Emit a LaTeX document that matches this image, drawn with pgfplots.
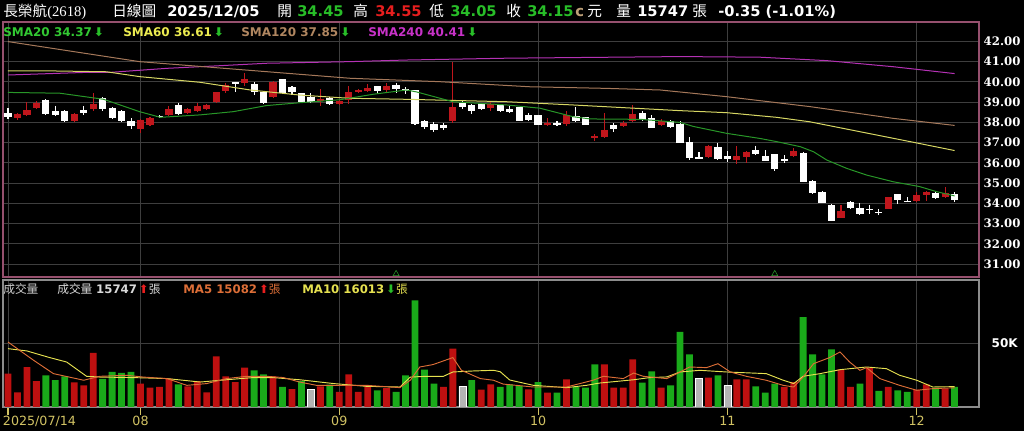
\documentclass[border=0pt]{standalone}
\usepackage{pgfplots}
\pgfplotsset{compat=1.18}
\usepackage{pgfplotstable}
\usepackage{fontspec}
\setmainfont{DejaVu Sans}
\newfontfamily\cjk{Noto Sans CJK TC}
\newfontfamily\dvserif{DejaVu Serif}
\newfontfamily\lserif{Liberation Serif}

\definecolor{gridc}{RGB}{62,62,62}
\definecolor{pricebd}{RGB}{150,80,110}
\definecolor{volbd}{RGB}{140,140,140}
\definecolor{cred}{RGB}{192,22,28}
\definecolor{vred}{RGB}{190,16,16}
\definecolor{vgreen}{RGB}{26,170,26}
\definecolor{vgray}{RGB}{180,180,180}
\definecolor{sma20}{RGB}{40,150,40}
\definecolor{sma60}{RGB}{215,215,100}
\definecolor{sma120}{RGB}{165,120,90}
\definecolor{sma240}{RGB}{180,50,180}
\definecolor{t20}{RGB}{50,200,50}
\definecolor{t60}{RGB}{235,235,80}
\definecolor{t120}{RGB}{176,134,96}
\definecolor{t240}{RGB}{200,50,200}
\definecolor{ma5}{RGB}{220,110,55}
\definecolor{ma10}{RGB}{230,225,80}
\definecolor{tickc}{RGB}{210,195,100}
\definecolor{upred}{RGB}{230,30,30}
\definecolor{dngreen}{RGB}{40,190,40}
\definecolor{tanc}{RGB}{190,160,120}

% daily candles: index, open, high, low, close
\pgfplotstableread{
i o h l c
0 38.45 38.70 38.15 38.25
1 38.20 38.45 38.10 38.40
2 38.35 39.00 38.30 38.60
3 38.70 39.05 38.65 38.95
4 39.10 39.15 38.35 38.40
5 38.55 38.80 38.30 38.35
6 38.55 38.60 38.00 38.05
7 38.05 38.45 38.00 38.40
8 38.60 38.80 38.35 38.45
9 38.65 39.45 38.55 38.90
10 39.20 39.25 38.55 38.65
11 38.70 38.75 38.15 38.20
12 38.55 38.60 38.00 38.05
13 38.05 38.20 37.65 37.80
14 37.65 38.15 37.50 38.10
15 37.85 38.25 37.80 38.20
16 38.30 38.35 38.20 38.30
17 38.35 38.80 38.30 38.65
18 38.85 38.95 38.35 38.40
19 38.45 38.70 38.40 38.65
20 38.55 38.95 38.50 38.80
21 38.65 38.90 38.60 38.85
22 39.00 39.50 38.95 39.50
23 39.55 39.95 39.45 39.85
24 39.95 39.95 39.50 39.95
25 39.95 40.45 39.80 40.15
26 39.90 40.00 39.35 39.50
27 39.50 39.50 38.90 38.95
28 39.25 40.05 39.20 40.00
29 40.15 40.15 39.45 39.45
30 39.75 39.80 39.35 39.50
31 39.45 39.45 39.00 39.00
32 39.25 39.45 38.95 39.00
33 39.10 39.65 38.80 39.15
34 39.20 39.25 38.85 38.90
35 38.90 39.10 38.85 39.05
36 39.10 39.80 38.90 39.50
37 39.50 39.65 39.45 39.60
38 39.55 39.90 39.50 39.70
39 39.80 39.80 39.40 39.55
40 39.60 39.95 39.45 39.80
41 39.85 39.95 39.45 39.65
42 39.60 39.75 39.40 39.60
43 39.60 39.60 37.85 37.90
44 38.05 38.10 37.65 37.75
45 37.90 38.00 37.55 37.60
46 37.85 37.95 37.60 37.70
47 38.05 41.00 37.95 38.75
48 38.95 39.10 38.65 38.75
49 38.85 38.90 38.40 38.55
50 38.90 38.95 38.60 38.65
51 38.70 39.05 38.55 38.90
52 38.85 38.90 38.50 38.55
53 38.65 38.80 38.45 38.50
54 38.75 38.75 38.05 38.05
55 38.35 38.45 38.05 38.10
56 38.35 38.35 37.85 37.85
57 37.85 38.20 37.80 37.95
58 37.95 38.05 37.80 37.90
59 37.90 38.55 37.80 38.35
60 38.30 38.75 38.00 38.05
61 38.25 38.25 37.85 37.85
62 37.25 37.45 37.10 37.35
63 37.30 38.45 37.25 37.60
64 37.85 37.95 37.55 37.65
65 37.80 38.05 37.75 37.95
66 38.05 38.85 38.00 38.40
67 38.45 38.55 38.05 38.10
68 38.20 38.35 37.70 37.70
69 37.85 38.15 37.80 38.05
70 38.05 38.10 37.70 37.75
71 37.90 38.05 37.00 37.00
72 37.05 37.30 36.15 36.25
73 36.25 36.55 36.20 36.25
74 36.30 36.90 36.25 36.85
75 36.80 37.00 36.15 36.20
76 36.35 36.60 36.05 36.20
77 36.15 36.85 35.95 36.35
78 36.30 36.60 36.00 36.55
79 36.65 36.85 36.40 36.45
80 36.35 36.65 36.10 36.10
81 36.45 36.45 35.60 35.70
82 36.15 36.40 36.00 36.15
83 36.35 36.75 36.30 36.60
84 36.50 36.55 35.05 35.05
85 35.10 35.15 34.45 34.50
86 34.55 34.60 34.00 34.00
87 33.90 33.95 33.15 33.15
88 33.30 33.90 33.30 33.60
89 34.05 34.10 33.70 33.75
90 33.75 34.00 33.45 33.50
91 33.70 33.90 33.50 33.70
92 33.55 33.70 33.45 33.55
93 33.70 34.30 33.70 34.30
94 34.45 34.45 33.95 34.15
95 34.10 34.30 34.05 34.10
96 34.10 34.55 34.05 34.40
97 34.40 34.60 34.10 34.55
98 34.50 34.55 34.20 34.25
99 34.30 34.80 34.25 34.50
100 34.45 34.55 34.05 34.15
}\candles

% volume in thousands; k: 1 up, 2 down, 3 flat
\pgfplotstableread{
i v k
0 26.2 1
1 11.5 1
2 31.4 1
3 20.4 1
4 24.9 2
5 21.0 2
6 24.1 2
7 19.4 1
8 17.0 1
9 42.4 1
10 22.0 2
11 27.5 2
12 26.7 2
13 27.5 2
14 18.4 1
15 15.2 1
16 15.7 1
17 22.3 1
18 17.8 2
19 16.2 1
20 20.4 1
21 11.5 1
22 39.8 1
23 24.1 1
24 19.6 1
25 30.9 1
26 28.8 2
27 25.7 2
28 24.1 1
29 15.7 2
30 14.1 1
31 20.4 2
32 14.1 3
33 16.2 1
34 17.6 2
35 11.8 1
36 25.7 1
37 11.8 1
38 17.0 1
39 13.1 2
40 14.9 1
41 11.8 2
42 24.9 2
43 83.7 2
44 29.4 2
45 18.4 2
46 15.7 1
47 45.8 1
48 16.2 3
49 21.0 2
50 13.7 1
51 17.8 1
52 15.7 2
53 17.8 2
54 16.5 2
55 13.9 1
56 19.6 2
57 11.3 1
58 11.3 2
59 21.7 1
60 15.7 2
61 15.2 2
62 33.5 2
63 33.5 1
64 15.2 1
65 15.2 1
66 37.4 1
67 19.2 2
68 28.0 2
69 15.2 1
70 17.0 2
71 58.9 2
72 41.4 2
73 22.3 3
74 23.1 1
75 24.9 2
76 16.8 3
77 21.7 1
78 21.7 1
79 16.2 2
80 11.3 2
81 18.4 2
82 15.7 1
83 19.6 1
84 70.6 2
85 41.4 2
86 25.7 2
87 45.3 2
88 29.6 1
89 15.7 1
90 18.4 2
91 30.9 1
92 12.6 2
93 15.7 1
94 13.1 2
95 11.8 2
96 13.7 1
97 17.8 1
98 15.2 2
99 14.4 1
100 15.7 2
}\vol

\pgfplotsset{
  wick/.style={draw=none, mark=none, forget plot,
    error bars/y dir=both, error bars/y explicit, error bars/error mark=none,
    error bars/error bar style={draw=#1, solid, line width=0.8pt}},
  body/.style={draw=none, mark=none, forget plot,
    error bars/y dir=both, error bars/y explicit, error bars/error mark=none,
    error bars/error bar style={draw=#1, solid, line width=5.4pt}},
}

\begin{document}
\begin{tikzpicture}
\useasboundingbox (0,0) rectangle (768pt,323.25pt);
\fill[black] (0,0) rectangle (768pt,323.25pt);

% price panel
\begin{axis}[
  at={(2.25pt,115.5pt)}, anchor=south west,
  scale only axis, width=732pt, height=191.25pt,
  xmin=-0.528, xmax=102.58, ymin=30.365, ymax=42.958,
  axis line style={draw=pricebd, line width=0.8pt},
  xtick={0,14,35,56,76,96}, xticklabels={},
  ytick={31,32,33,34,35,36,37,38,39,40,41,42},
  yticklabels={31.00,32.00,33.00,34.00,35.00,36.00,37.00,38.00,39.00,40.00,41.00,42.00},
  yticklabel pos=right,
  yticklabel style={font=\dvserif\bfseries\fontsize{8.8}{10}\selectfont, text=white},
  tick style={draw=none},
  grid=major, major grid style={draw=gridc, line width=0.6pt},
]
\addplot[restrict expr to domain={\thisrow{c}-\thisrow{o}}{0.001:100}, wick=cred]
  table[x=i, y expr={(\thisrow{h}+\thisrow{l})/2}, y error expr={(\thisrow{h}-\thisrow{l})/2}] {\candles};
\addplot[restrict expr to domain={\thisrow{c}-\thisrow{o}}{-100:0}, wick=white]
  table[x=i, y expr={(\thisrow{h}+\thisrow{l})/2}, y error expr={(\thisrow{h}-\thisrow{l})/2}] {\candles};
\addplot[restrict expr to domain={\thisrow{c}-\thisrow{o}}{0.001:100}, body=cred]
  table[x=i, y expr={(\thisrow{o}+\thisrow{c})/2}, y error expr={max(abs(\thisrow{c}-\thisrow{o})/2,0.025)}] {\candles};
\addplot[restrict expr to domain={\thisrow{c}-\thisrow{o}}{-100:0}, body=white]
  table[x=i, y expr={(\thisrow{o}+\thisrow{c})/2}, y error expr={max(abs(\thisrow{c}-\thisrow{o})/2,0.025)}] {\candles};

\addplot[sma240, line width=0.75pt] coordinates {
 (0,40.34) (8.3,40.47) (10.8,40.47) (16.8,40.67) (22,40.79) (27.3,40.92) (36.1,41.0)
 (42.1,41.08) (52.7,41.17) (71,41.25) (79.4,41.22) (86.5,41.05) (93.5,40.75) (100,40.41)};
\addplot[sma120, line width=0.75pt] coordinates {
 (0,41.99) (13.9,41.0) (36.1,40.18) (45.6,40.01) (55.1,39.76) (63.2,39.68) (68.9,39.6)
 (75.9,39.27) (84.7,38.78) (93.5,38.2) (100,37.85)};
\addplot[sma60, line width=0.75pt] coordinates {
 (0,40.55) (3.4,40.55) (10.4,40.5) (13.9,40.26) (20.3,39.98) (25.6,39.6) (30.8,39.35)
 (36.1,39.19) (42.1,39.14) (52.7,39.02) (59.7,38.86) (71,38.58) (75.9,38.48) (81.2,38.25)
 (84.7,38.03) (90,37.54) (95.3,37.05) (100,36.61)};
\addplot[sma20, line width=0.75pt] coordinates {
 (0,39.48) (5.5,39.44) (10.1,39.14) (13.9,38.53) (16.1,38.25) (20.3,38.37) (23.8,38.53)
 (27.3,38.83) (30.8,38.97) (35.1,39.12) (38.6,39.39) (42.1,39.6) (43.2,39.5) (47,39.02)
 (52.7,38.86) (56.2,38.70) (59.7,38.28) (61.5,38.17) (66.8,38.15) (71,38.0) (72.4,37.8)
 (75.9,37.46) (79.4,37.21) (81.2,37.05) (83.7,36.8) (85.1,36.55) (86.5,36.14) (88.6,35.73)
 (90.7,35.4) (93.5,35.07) (96.3,34.83) (98.1,34.58) (100,34.37)};
\addplot[only marks, mark=triangle, mark size=2.6pt, sma20] coordinates {(41,30.52) (81,30.52)};
\end{axis}

% volume panel
\begin{axis}[
  at={(2.25pt,18pt)}, anchor=south west,
  scale only axis, width=732pt, height=95.25pt,
  xmin=-0.528, xmax=102.58, ymin=0, ymax=99.7,
  axis line style={draw=volbd, line width=0.8pt},
  xtick={0,14,35,56,76,96},
  xticklabels={\rlap{\hspace{-3.75pt}2025/07/14},08,09,10,11,12},
  xtick pos=left, tick align=outside, major tick length=6pt,
  xtick style={draw=tickc, line width=0.8pt},
  xticklabel style={font=\fontsize{9.5}{11}\selectfont, text=tickc, inner sep=1pt},
  ytick={50}, yticklabels={50K}, yticklabel pos=right,
  ytick style={draw=none},
  yticklabel style={font=\bfseries\fontsize{9}{11}\selectfont, text=white},
  grid=major, major grid style={draw=gridc, line width=0.6pt},
]
\addplot[ybar, bar width=0.72, bar shift=0pt, fill=vred, draw=none,
  restrict expr to domain={\thisrow{k}}{1:1}] table[x=i, y=v] {\vol};
\addplot[ybar, bar width=0.72, bar shift=0pt, fill=vgreen, draw=none,
  restrict expr to domain={\thisrow{k}}{2:2}] table[x=i, y=v] {\vol};
\addplot[ybar, bar width=0.72, bar shift=0pt, fill=vgray, draw=white,
  restrict expr to domain={\thisrow{k}}{3:3}] table[x=i, y=v] {\vol};
\addplot[ma10, line width=0.7pt] coordinates {
 (0,45.8) (2,44) (4.4,38.8) (6.2,35.3) (8.3,24.1) (9.7,23.5) (13.2,23.1) (16.8,22.3)
 (20.3,19.6) (23.1,21.4) (25.9,23.1) (28,23.1) (30.8,21.4) (34.4,18.4) (37.9,16.2)
 (41.4,15.7) (42.5,23.5) (44.2,24.1) (46,24.1) (47,27.5) (49.2,28.3) (51.3,28.8) (52,27.7)
 (53,21.2) (55.5,17) (59,15.2) (61.1,17) (62.5,18.8) (66.1,21.4) (67.8,23.1) (69.6,23.6)
 (71,27.5) (73.1,28.8) (75.9,27.5) (80.1,26.2) (81.9,21) (83,18.4) (84,24.1) (85.8,26.2)
 (87.9,29.3) (90.7,31.4) (92.8,30.1) (94.2,24.9) (96,21) (97.7,15.7) (100,16.0)};
\addplot[ma5, line width=0.7pt] coordinates {
 (0,51.0) (2.7,36.7) (4.8,26.2) (8,21) (9.7,24.1) (12.5,24.9) (14.3,23.5) (16.8,22.3)
 (18.9,17) (21,18.4) (23.1,22.3) (25.2,24.1) (27.3,24.1) (29.1,23.1) (30.8,19.6) (32.6,17)
 (36.1,17) (37.9,17) (41.4,15.2) (42.5,21) (43.5,31.4) (44.9,33.3) (47,38.8) (47.9,28.8)
 (49.9,22.3) (51.3,21) (52.3,18) (55.5,15.7) (59,15.7) (61.8,21) (62.9,24.1) (65,22.3)
 (66.1,26.7) (67.1,24.1) (69.6,22.3) (71,27.5) (72,31.4) (73.8,30.9) (75,34) (76.3,27.5)
 (78,24.1) (80.1,21) (81.9,17) (83,15.7) (84,23.5) (85.1,34) (86.8,38.8) (87.9,43.2)
 (88.9,35.4) (90,28.8) (90.7,30.9) (92.1,22.3) (94.2,17) (96,13.1) (97.7,14.4) (100,15.1)};
\end{axis}

% header and legends
\begin{scope}[shift={(0pt,323.25pt)}, x=0.75pt, y=-0.75pt,
  every node/.style={anchor=base west, inner sep=0pt, text=white, font=\fontsize{11}{13}\selectfont}]
\node at (3,17) {{\cjk 長榮航}{\lserif (2618)}};
\node at (112,17) {\cjk 日線圖};
\node at (167,17) {\bfseries 2025/12/05};
\node at (277,17) {\cjk 開};
\node[text=dngreen] at (297,17) {\bfseries 34.45};
\node at (353,17) {\cjk 高};
\node[text=upred] at (375,17) {\bfseries 34.55};
\node at (429,17) {\cjk 低};
\node[text=dngreen] at (450,17) {\bfseries 34.05};
\node at (506,17) {\cjk 收};
\node[text=dngreen] at (527,17) {\bfseries 34.15};
\node[text=tanc] at (575,17) {\bfseries c};
\node at (587,17) {\cjk 元};
\node at (616,17) {\cjk 量};
\node at (637,17) {\bfseries 15747};
\node at (692,17) {\cjk 張};
\node at (718,17) {\bfseries -0.35 (-1.01\%)};

\begin{scope}[every node/.append style={font=\bfseries\fontsize{9}{11}\selectfont}]
\node[text=t20] at (3,36.5) {SMA20 34.37\,{\color{dngreen}⬇}};
\node[text=t60] at (123,36.5) {SMA60 36.61\,{\color{dngreen}⬇}};
\node[text=t120] at (241,36.5) {SMA120 37.85\,{\color{dngreen}⬇}};
\node[text=t240] at (368,36.5) {SMA240 40.41\,{\color{dngreen}⬇}};
\end{scope}

\begin{scope}[every node/.append style={font=\fontsize{8.8}{11}\selectfont}]
\node[text=white!80!black] at (3,293.5) {\cjk 成交量};
\node[text=white!85!black] at (57,293.5) {{\cjk 成交量} \textbf{15747}\,{\color{upred}⬆}{\cjk 張}};
\node[text=ma5] at (183,293.5) {\textbf{MA5 15082}\,{\color{upred}⬆}{\cjk 張}};
\node[text=ma10] at (302,293.5) {\textbf{MA10 16013}\,{\color{dngreen}⬇}{\cjk 張}};
\end{scope}
\end{scope}
\end{tikzpicture}
\end{document}
